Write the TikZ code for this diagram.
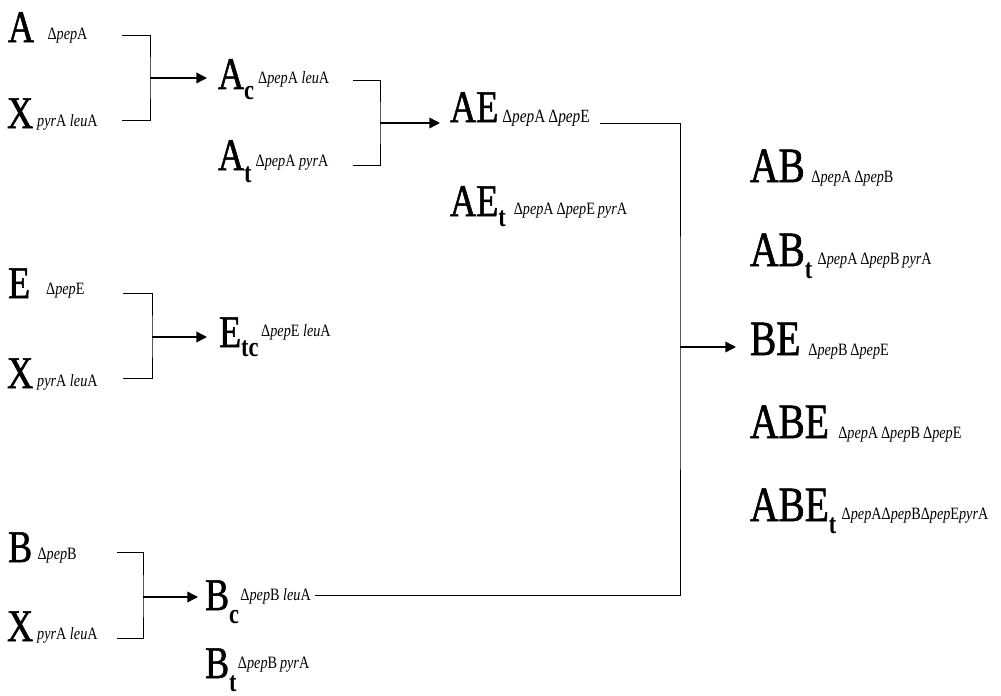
\documentclass[tikz,border=0pt]{standalone}
\usepackage{fontspec}
\setmainfont{Liberation Serif}
\newfontfamily\bigf[FakeStretch=0.8,FakeBold=1.2]{Liberation Serif}
\newfontfamily\subf[FakeStretch=0.8]{Liberation Serif Bold}
\newfontfamily\genef[FakeStretch=0.82]{Liberation Serif}
\usetikzlibrary{arrows.meta}
\newcommand\mainL[1]{{\fontsize{34}{34}\bigf #1}}
\newcommand\mainR[1]{{\fontsize{37}{37}\bigf #1}}
\newcommand\lowsub[2]{\raisebox{-#1}{\fontsize{21}{21}\subf #2}}
\newcommand\gene[2]{\raisebox{#1}{\fontsize{13}{13}\genef #2}}
\newcommand\geneb[2]{\raisebox{#1}{\fontsize{14}{14}\genef #2}}
\newcommand\gp[1]{Δ\textit{pep}#1}
\newcommand\gpyr{\textit{pyr}A}
\newcommand\gleu{\textit{leu}A}
\begin{document}
\begin{tikzpicture}[x=0.75pt,y=-0.75pt,
  lab/.style={anchor=base west,inner sep=0pt,outer sep=0pt},
  conn/.style={line width=0.7pt},
  arr/.style={line width=1.1pt,-{Triangle[length=8pt,width=8pt]}}]
\useasboundingbox (0,0) rectangle (1001,696);
% left column
\node[lab] (A)  at (8,42)  {\mainL{A}\hspace{10pt}\gene{2pt}{\gp{A}}};
\node[lab] (X1) at (7,128) {\mainL{X}\hspace{3pt}\gene{1pt}{\gpyr\ \gleu}};
\node[lab] (E)  at (8,298) {\mainL{E}\hspace{12pt}\gene{3pt}{\gp{E}}};
\node[lab] (X2) at (7,388) {\mainL{X}\hspace{3pt}\gene{1pt}{\gpyr\ \gleu}};
\node[lab] (B)  at (8,562) {\mainL{B}\hspace{4pt}\gene{2pt}{\gp{B}}};
\node[lab] (X3) at (7,641) {\mainL{X}\hspace{3pt}\gene{1pt}{\gpyr\ \gleu}};
% second column
\node[lab] (Ac)  at (218,89)  {\mainL{A}\lowsub{8pt}{c}\hspace{3pt}\gene{4pt}{\gp{A} \gleu}};
\node[lab] (At)  at (218,170) {\mainL{A}\lowsub{9pt}{t}\hspace{3pt}\gene{3pt}{\gp{A} \gpyr}};
\node[lab] (Etc) at (219,347) {\mainL{E}\lowsub{7pt}{tc}\hspace{2pt}\gene{8pt}{\gp{E} \gleu}};
\node[lab] (Bc)  at (205,610) {\mainL{B}\lowsub{10pt}{c}\hspace{1pt}\gene{7pt}{\gp{B} \gleu}};
\node[lab] (Bt)  at (205,678) {\mainL{B}\lowsub{10pt}{t}\hspace{1pt}\gene{7pt}{\gp{B}\,\gpyr}};
% third column
\node[lab] (AE)  at (450,122) {\mainL{AE}\hspace{3pt}\geneb{0pt}{\gp{A}\,\gp{E}}};
\node[lab] (AEt) at (450,216) {\mainL{AE}\lowsub{8pt}{t}\hspace{6pt}\gene{1pt}{\gp{A}\,\gp{E}\,\gpyr}};
% right column
\node[lab] (AB)   at (750,182) {\mainR{AB}\hspace{5pt}\gene{0pt}{\gp{A}\,\gp{B}}};
\node[lab] (ABt)  at (750,266) {\mainR{AB}\lowsub{9pt}{t}\hspace{4pt}\gene{1pt}{\gp{A}\,\gp{B}\,\gpyr}};
\node[lab] (BE)   at (750,355) {\mainR{BE}\hspace{6pt}\gene{0pt}{\gp{B}\,\gp{E}}};
\node[lab] (ABE)  at (750,438) {\mainR{ABE}\hspace{7pt}\gene{0pt}{\gp{A}\,\gp{B}\,\gp{E}}};
\node[lab] (ABEt) at (750,521) {\mainR{ABE}\lowsub{9pt}{t}\hspace{4pt}\gene{1pt}{\gp{A}\gp{B}\gp{E}\gpyr}};
% connector coordinates
\coordinate (a1) at (122,35);  \coordinate (ja) at (150,78);  \coordinate (a2) at (122,120);
\coordinate (ta) at (207,78);
\coordinate (e1) at (123,293); \coordinate (je) at (152,337); \coordinate (e2) at (123,378);
\coordinate (te) at (207,337);
\coordinate (b1) at (117,552); \coordinate (jb) at (143,597); \coordinate (b2) at (117,638);
\coordinate (tb) at (198,597);
\coordinate (c1) at (353,80);  \coordinate (jc) at (380,123); \coordinate (c2) at (353,165);
\coordinate (tc) at (440,123);
\coordinate (r1) at (600,123); \coordinate (jr) at (680,347); \coordinate (r2) at (315,595);
\coordinate (tr) at (736,347);
% brackets
\draw[conn] (a1) -| (ja) |- (a2);
\draw[conn] (e1) -| (je) |- (e2);
\draw[conn] (b1) -| (jb) |- (b2);
\draw[conn] (c1) -| (jc) |- (c2);
\draw[conn] (r1) -| (jr) |- (r2);
% arrows
\draw[arr] (ja) -- (ta);
\draw[arr] (je) -- (te);
\draw[arr] (jb) -- (tb);
\draw[arr] (jc) -- (tc);
\draw[arr] (jr) -- (tr);
\end{tikzpicture}
\end{document}
